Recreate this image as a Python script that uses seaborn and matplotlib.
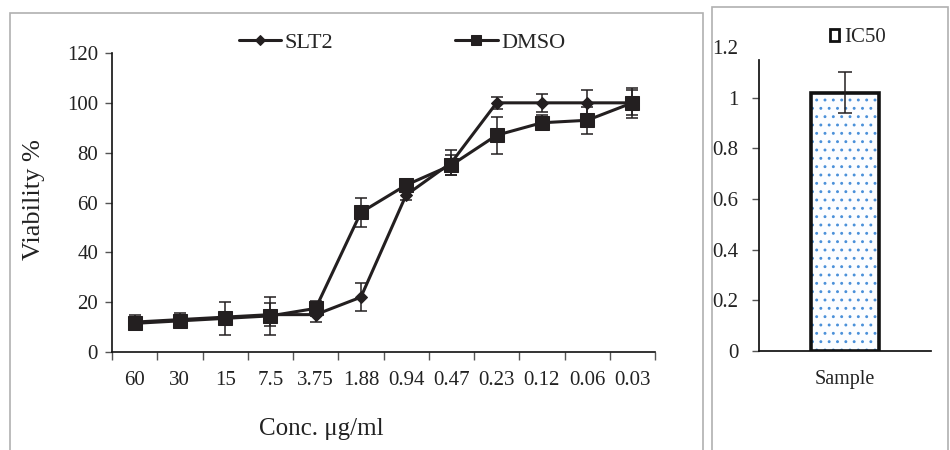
import matplotlib
matplotlib.use("Agg")
import matplotlib.pyplot as plt
import matplotlib.patches as mpatches
import numpy as np
import pandas as pd
import seaborn as sns

# data
conc_labels = ["60", "30", "15", "7.5", "3.75", "1.88", "0.94", "0.47", "0.23", "0.12", "0.06", "0.03"]
slt2 = [12, 13, 14, 15, 15, 22, 63, 76, 100, 100, 100, 100]
slt2_err = [3, 2.5, 2, 4.5, 3, 5.5, 2, 5, 2.5, 3.5, 5, 5]
dmso = [11.5, 12.5, 13.5, 14.5, 17.5, 56, 67, 75, 87, 92, 93, 100]
dmso_err = [2, 2, 6.5, 7.5, 3, 6, 2, 4, 7.5, 3, 5.5, 6]

ic50_labels = ["Sample"]
ic50_values = [1.02]
ic50_err = [0.08]

sns.set_theme(style="white")
plt.rcParams['font.family'] = ['Liberation Serif', 'DejaVu Serif']
plt.rcParams['hatch.linewidth'] = 0.9

INK = '#231f20'
TXT = '#222222'
DOT = '#4a90d9'
fig = plt.figure(figsize=(9.5, 4.5), dpi=100)

# panel frames (chart area borders)
for (x0, y0, x1) in [(10, 13, 703), (712, 7, 948)]:
    fig.patches.append(mpatches.Rectangle((x0 / 950, -0.1), (x1 - x0) / 950, 1.1 - y0 / 450,
                                          transform=fig.transFigure, fill=False,
                                          edgecolor='#b0b0b0', lw=1.2, clip_on=False))

# ---- left: viability curves
ax = fig.add_axes([112 / 950, 98 / 450, 543 / 950, 299 / 450])
pos = np.arange(len(conc_labels))
df = pd.DataFrame({'pos': np.concatenate([pos, pos]),
                   'val': slt2 + dmso,
                   'series': ['SLT2'] * len(pos) + ['DMSO'] * len(pos)})

ax.errorbar(pos, slt2, yerr=slt2_err, fmt='none', ecolor=INK, elinewidth=1.1, capsize=4, capthick=1.1, zorder=2)
ax.errorbar(pos, dmso, yerr=dmso_err, fmt='none', ecolor=INK, elinewidth=1.1, capsize=4, capthick=1.1, zorder=2)
sns.lineplot(data=df[df['series'] == 'SLT2'], x='pos', y='val', ax=ax, color=INK, lw=2.2,
             marker='D', markersize=6.5, markeredgecolor=INK, label='SLT2', zorder=3)
sns.lineplot(data=df[df['series'] == 'DMSO'], x='pos', y='val', ax=ax, color=INK, lw=2.2,
             marker='s', markersize=9.5, markeredgecolor=INK, label='DMSO', zorder=3)

ax.set_xlim(-0.5, len(pos) - 0.5)
ax.set_ylim(0, 120)
ax.set_yticks(range(0, 121, 20))
ax.set_xticks(pos)
ax.set_xticklabels(conc_labels)
ax.set_xticks(np.arange(-0.5, len(pos), 1), minor=True)
ax.tick_params(axis='x', which='major', length=0, pad=14, labelsize=15)
ax.tick_params(axis='x', which='minor', length=6, width=1, color='#555555', direction='out', bottom=True)
ax.tick_params(axis='y', length=5, width=1, color='#555555', direction='out', left=True, labelsize=15, pad=5)
for lab in ax.get_yticklabels() + ax.get_xticklabels():
    lab.set_color(TXT)
sns.despine(ax=ax)
for s in ['left', 'bottom']:
    ax.spines[s].set_color('#111111')
    ax.spines[s].set_linewidth(1.2)

ax.set_xlabel("Conc. μg/ml", fontsize=18, color=TXT)
ax.xaxis.set_label_coords(0.385, -0.22)
ax.set_ylabel("Viability %", fontsize=19, color=TXT)
ax.yaxis.set_label_coords(-0.123, 0.51)

leg = ax.legend(ncol=2, loc='center', bbox_to_anchor=(402 / 950, 1 - 43 / 450), bbox_transform=fig.transFigure,
                frameon=False, fontsize=16, handlelength=1.9, handletextpad=0.15, columnspacing=5.5)
for h in leg.legend_handles:
    h.set_markersize(h.get_markersize() * 0.8)

# ---- right: IC50 bar
bx = fig.add_axes([759 / 950, 99 / 450, 172 / 950, 304 / 450])
bdf = pd.DataFrame({'label': ic50_labels, 'val': ic50_values})
# the hatch takes the edge colour, so draw the dots first and the black outline on top
sns.barplot(data=bdf, x='label', y='val', ax=bx, width=0.4, color='#fbfdff', edgecolor=DOT,
            linewidth=0, hatch='..')
for p in list(bx.patches):
    bx.add_patch(mpatches.Rectangle(p.get_xy(), p.get_width(), p.get_height(), fill=False,
                                    edgecolor='#111111', lw=2.6, zorder=3))
bx.errorbar(range(len(ic50_labels)), ic50_values, yerr=ic50_err, fmt='none', ecolor=INK,
            elinewidth=1.1, capsize=5, capthick=1.1, zorder=4)
bx.set_xlim(-0.5, len(ic50_labels) - 0.5)
bx.set_ylim(0, 1.2)
bx.set_yticks([0, 0.2, 0.4, 0.6, 0.8, 1, 1.2])
bx.set_yticklabels(['0', '0.2', '0.4', '0.6', '0.8', '1', '1.2'])
bx.tick_params(axis='y', length=5, width=1, color='#555555', direction='out', left=True, labelsize=15, pad=10)
bx.tick_params(axis='x', length=0, labelsize=14.5, pad=14)
bx.yaxis.get_major_ticks()[-1].tick1line.set_visible(False)
for lab in bx.get_yticklabels() + bx.get_xticklabels():
    lab.set_color(TXT)
sns.despine(ax=bx)
bx.spines['left'].set_color('#111111')
bx.spines['bottom'].set_color('#111111')
bx.spines['left'].set_bounds(0, 1.15)
bx.set_xlabel('')
bx.set_ylabel('')
ic50_handle = mpatches.Patch(facecolor='white', edgecolor='#111111', lw=2, label='IC50')
bx.legend(handles=[ic50_handle], loc='center', bbox_to_anchor=(858 / 950, 1 - 38 / 450),
          bbox_transform=fig.transFigure, frameon=False, fontsize=15,
          handlelength=0.45, handleheight=0.45, handletextpad=0.25)

fig.savefig("out.png", dpi=100)
